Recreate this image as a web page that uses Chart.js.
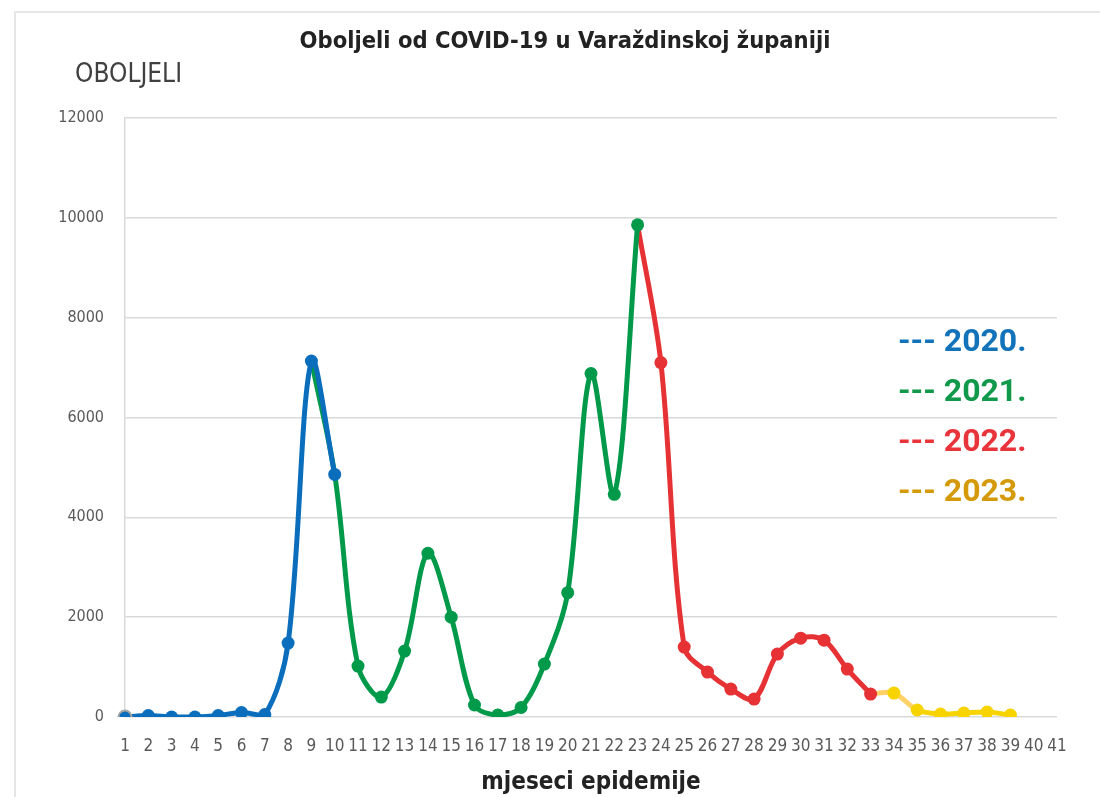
<!DOCTYPE html>
<html><head><meta charset="utf-8">
<script src="https://cdn.jsdelivr.net/npm/chart.js@4.4.1/dist/chart.umd.min.js"></script>
<style>
html,body{margin:0;padding:0;background:#fff;overflow:hidden;width:1100px;height:797px;}
#wrap{position:absolute;left:0;top:0;width:1100px;height:797px;}
#frame{position:absolute;left:14px;top:11px;width:1200px;height:900px;border:2px solid #E6E6E6;pointer-events:none;}
</style></head><body>
<div id="frame"></div>
<div id="wrap"><canvas id="c" width="1100" height="797"></canvas></div>
<script>
const categories = ['1','2','3','4','5','6','7','8','9','10','11','12','13','14','15','16','17','18','19','20','21','22','23','24','25','26','27','28','29','30','31','32','33','34','35','36','37','38','39','40','41'];
const values2020 = [0,30,0,0,30,90,50,1480,7130,4860,null,null,null,null,null,null,null,null,null,null,null,null,null,null,null,null,null,null,null,null,null,null,null,null,null,null,null,null,null,null,null];
const values2021 = [null,null,null,null,null,null,null,null,7130,4860,1020,400,1320,3280,2000,240,40,190,1060,2490,6880,4460,9860,null,null,null,null,null,null,null,null,null,null,null,null,null,null,null,null,null,null];
const values2022 = [null,null,null,null,null,null,null,null,null,null,null,null,null,null,null,null,null,null,null,null,null,null,9860,7100,1400,900,560,360,1260,1580,1540,960,460,null,null,null,null,null,null,null,null];
const values2023 = [null,null,null,null,null,null,null,null,null,null,null,null,null,null,null,null,null,null,null,null,null,null,null,null,null,null,null,null,null,null,null,null,460,480,140,60,80,100,40,null,null];
const yTicks = [0,2000,4000,6000,8000,10000,12000];
const legendLabels = ['--- 2020.','--- 2021.','--- 2022.','--- 2023.'];
const legendColors = ['#1272BA','#10994A','#E8343A','#D49A0A'];
const titleText = 'Oboljeli od COVID-19 u Varaždinskoj županiji';
const yTitleText = 'OBOLJELI';
const xTitleText = 'mjeseci epidemije';

const NARROW = '"Liberation Sans Narrow", "DejaVu Sans Condensed", sans-serif';

function firstIdx(arr){ return arr.findIndex(v => v !== null); }
function hideFirst(arr, n, r){ const f = firstIdx(arr); return ctx => (ctx.dataIndex >= f && ctx.dataIndex < f + n) ? 0 : r; }

const textPlugin = {
  id: 'textPlugin',
  afterDraw(chart){
    const ctx = chart.ctx; const a = chart.chartArea;
    ctx.save();
    ctx.textAlign = 'left'; ctx.textBaseline = 'middle';
    ctx.font = 'bold 32px Roboto, sans-serif';
    legendLabels.forEach((t,i) => { ctx.fillStyle = legendColors[i]; ctx.fillText(t, a.right - 159, 343 + i*50); });
    ctx.font = '26px ' + NARROW; ctx.fillStyle = '#404040';
    ctx.fillText(yTitleText, 75, 75);
    ctx.restore();
  }
};

const lineW = 5, pr = 6.5, TENS = 0.33;
const Y_PALE = '#FFD166', Y_BRIGHT = '#F7D300';
const f2023 = firstIdx(values2023);
new Chart(document.getElementById('c'), {
  type: 'line',
  data: {
    labels: categories,
    datasets: [
      {label:'2020.', data: values2020, borderColor:'#0A6EBD', backgroundColor:'#0A6EBD', borderWidth:lineW, tension:TENS,
       pointRadius: pr, pointBackgroundColor:'#0A6EBD', pointBorderColor: ctx => ctx.dataIndex===0 ? '#A6A6A6' : '#0A6EBD', pointBorderWidth: ctx => ctx.dataIndex===0 ? 2 : 0},
      {label:'2021.', data: values2021, borderColor:'#009A4A', backgroundColor:'#009A4A', borderWidth:lineW, tension:TENS,
       pointRadius: hideFirst(values2021, 2, pr), pointBackgroundColor:'#009A4A', pointBorderWidth:0},
      {label:'2022.', data: values2022, borderColor:'#E63234', backgroundColor:'#E63234', borderWidth:lineW, tension:TENS,
       pointRadius: hideFirst(values2022, 1, pr), pointBackgroundColor:'#E63234', pointBorderWidth:0},
      {label:'2023.', data: values2023, borderColor:Y_BRIGHT, backgroundColor:Y_BRIGHT, borderWidth:lineW, tension:TENS,
       segment:{borderColor: ctx => ctx.p0DataIndex < f2023 + 2 ? Y_PALE : Y_BRIGHT},
       pointRadius: hideFirst(values2023, 1, pr), pointBackgroundColor:Y_BRIGHT, pointBorderWidth:0}
    ]
  },
  options: {
    responsive:false, animation:false,
    layout:{padding:{top:28,right:0,bottom:0.6,left:30}},
    plugins:{
      legend:{display:false}, tooltip:{enabled:false},
      title:{display:true, text:titleText, color:'#222', font:{family:NARROW, size:23.5, weight:'bold', lineHeight:1.2}, padding:{top:0,bottom:61.8}}
    },
    scales:{
      x:{
        offset:false,
        afterFit(scale){ scale.paddingRight = 43; },
        grid:{display:false, drawTicks:false},
        border:{display:false},
        ticks:{autoSkip:false, maxRotation:0, minRotation:0, padding:19, color:'#595959', font:{family:NARROW, size:17, lineHeight:1.2}},
        title:{display:true, text:xTitleText, color:'#222', font:{family:NARROW, size:24, weight:'bold', lineHeight:'15px'}, padding:{top:0,bottom:6}}
      },
      y:{
        min:0, max:12000,
        afterFit(scale){ scale.width = 95; },
        afterBuildTicks(scale){ scale.ticks = yTicks.map(v => ({value:v})); },
        grid:{color:'#D9D9D9', lineWidth:1.5, drawTicks:false},
        border:{display:true, color:'#D9D9D9', width:1.5},
        ticks:{padding:21, color:'#595959', font:{family:NARROW, size:16}, callback: v => String(v)}
      }
    }
  },
  plugins:[textPlugin]
});
</script>
</body></html>
